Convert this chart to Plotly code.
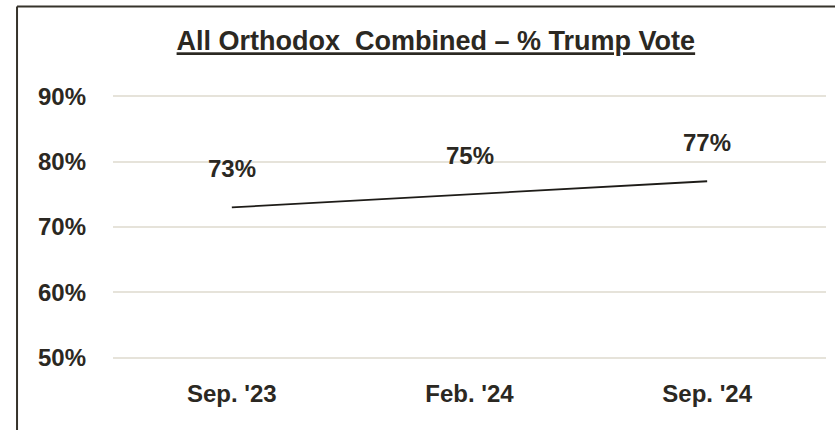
import plotly.graph_objects as go

categories = ["Sep. '23", "Feb. '24", "Sep. '24"]
trump_vote = [73, 75, 77]
value_labels = ["73%", "75%", "77%"]
y_ticks = [50, 60, 70, 80, 90]
y_tick_labels = ["50%", "60%", "70%", "80%", "90%"]

FONT = "Liberation Sans, Arial, sans-serif"
TXT = "#2b2822"

fig = go.Figure()
fig.add_trace(go.Scatter(x=categories, y=trump_vote, mode="lines",
                         line=dict(color="#1e1c18", width=1.8),
                         hoverinfo="skip", showlegend=False))

for c, v, t in zip(categories, trump_vote, value_labels):
    fig.add_annotation(x=c, y=v, text="<b>%s</b>" % t, showarrow=False,
                       yshift=39, font=dict(family=FONT, size=24, color=TXT))

fig.update_layout(
    width=835, height=430,
    margin=dict(l=113, r=9, t=95, b=71),
    paper_bgcolor="white", plot_bgcolor="white",
    title=dict(text="<b><u>All Orthodox  Combined – % Trump Vote</u></b>",
               x=0.522, xanchor="center", y=0.905, yanchor="middle",
               font=dict(family=FONT, size=27, color=TXT)),
    xaxis=dict(range=[-0.5, 2.5], showgrid=False, zeroline=False, showline=False,
               tickvals=categories,
               ticktext=["<b>%s</b>" % c for c in categories],
               tickfont=dict(family=FONT, size=24, color=TXT),
               ticklabelstandoff=18, fixedrange=True),
    yaxis=dict(range=[49.8, 90.2], tickvals=y_ticks,
               ticktext=["<b>%s</b>" % t for t in y_tick_labels],
               showgrid=True, gridcolor="#e6e3da", gridwidth=1.5,
               zeroline=False, showline=False,
               tickfont=dict(family=FONT, size=24, color=TXT),
               ticklabelstandoff=26, fixedrange=True),
    shapes=[
        dict(type="line", xref="paper", yref="paper", x0=-0.1346, x1=-0.1346,
             y0=-0.35, y1=1.335, line=dict(color="#36332b", width=2)),
        dict(type="line", xref="paper", yref="paper", x0=-0.1346, x1=1.05,
             y0=1.335, y1=1.335, line=dict(color="#36332b", width=2)),
    ],
)

fig.write_html("out.html", config={"displayModeBar": False},
               post_script="document.body.style.margin='0';")
